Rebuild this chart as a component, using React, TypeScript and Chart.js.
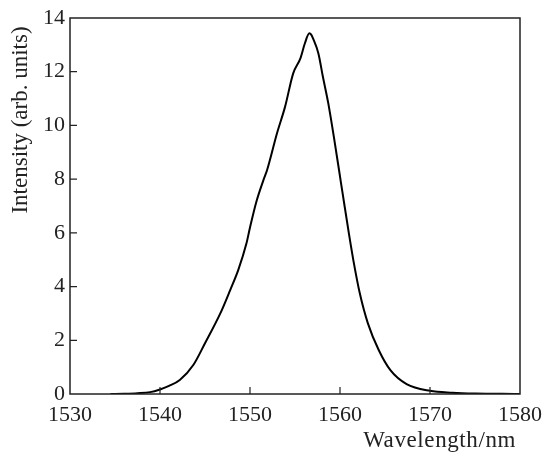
import React, { useEffect, useRef } from "react";
import { Chart, registerables } from "chart.js";

Chart.register(...registerables);

const wavelengths: number[] = [
  1534.5, 1536, 1537.5, 1538.9, 1540, 1541, 1542.2, 1543.7, 1545, 1546.7,
  1547.8, 1548.7, 1549.6, 1550.0, 1550.7, 1551.5, 1551.9, 1553.0, 1553.9,
  1554.8, 1555.6, 1556.1, 1556.6, 1556.8, 1557.0, 1557.6, 1558.1, 1558.7,
  1559.4, 1560.0, 1560.3, 1561.0, 1561.5, 1562.2, 1563.1, 1564.3, 1565.6,
  1567.4, 1570, 1572.5, 1575, 1578, 1580,
];
const intensities: number[] = [
  0, 0.01, 0.03, 0.07, 0.17, 0.3, 0.52, 1.08, 1.89, 3.0,
  3.87, 4.62, 5.6, 6.2, 7.15, 7.97, 8.34, 9.71, 10.7,
  11.94, 12.5, 13.06, 13.43, 13.38, 13.24, 12.68, 11.81, 10.82,
  9.4, 8.1, 7.45, 5.95, 4.95, 3.75, 2.63, 1.64, 0.89,
  0.37, 0.12, 0.05, 0.02, 0.01, 0,
];
const xTicks: number[] = [1530, 1540, 1550, 1560, 1570, 1580];
const yTicks: number[] = [0, 2, 4, 6, 8, 10, 12, 14];
const xTitle = "Wavelength/nm";
const yTitle = "Intensity (arb. units)";

const FONT = "'Liberation Serif', 'Times New Roman', serif";
const INK = "#222";

const frame = {
  id: "frame",
  afterDraw(chart: any) {
    const { ctx, chartArea: a, scales } = chart;
    ctx.save();
    ctx.strokeStyle = INK;
    ctx.lineWidth = 1.5;
    ctx.strokeRect(a.left, a.top, a.right - a.left, a.bottom - a.top);
    ctx.lineWidth = 1.2;
    ctx.beginPath();
    xTicks.forEach((v) => {
      if (v === xTicks[0] || v === xTicks[xTicks.length - 1]) return;
      const px = scales.x.getPixelForValue(v);
      ctx.moveTo(px, a.bottom);
      ctx.lineTo(px, a.bottom - 7);
    });
    yTicks.forEach((v) => {
      if (v === yTicks[0] || v === yTicks[yTicks.length - 1]) return;
      const py = scales.y.getPixelForValue(v);
      ctx.moveTo(a.left, py);
      ctx.lineTo(a.left + 7, py);
    });
    ctx.stroke();

    // axis titles
    ctx.fillStyle = INK;
    ctx.font = `23px ${FONT}`;
    try { (ctx as any).letterSpacing = "0.6px"; } catch (e) {}
    ctx.textAlign = "right";
    ctx.textBaseline = "alphabetic";
    ctx.fillText(xTitle, a.right - 4, 447);
    try { (ctx as any).letterSpacing = "0px"; } catch (e) {}
    ctx.save();
    ctx.translate(27, 120);
    ctx.rotate(-Math.PI / 2);
    ctx.textAlign = "center";
    ctx.font = `23px ${FONT}`;
    ctx.fillText(yTitle, 0, 0);
    ctx.restore();
    ctx.restore();
  },
};

export default function App() {
  const ref = useRef<HTMLCanvasElement | null>(null);
  useEffect(() => {
    if (!ref.current) return;
    const chart = new Chart(ref.current, {
      type: "line",
      data: {
        datasets: [
          {
            data: wavelengths.map((w, i) => ({ x: w, y: intensities[i] })),
            borderColor: "#000",
            borderWidth: 2,
            pointRadius: 0,
            cubicInterpolationMode: "monotone",
            fill: false,
          },
        ],
      },
      options: {
        animation: false,
        responsive: true,
        maintainAspectRatio: false,
        layout: { padding: { top: 18, right: 22, left: 0, bottom: 0 } },
        plugins: { legend: { display: false }, tooltip: { enabled: false } },
        scales: {
          x: {
            type: "linear",
            min: 1530,
            max: 1580,
            afterBuildTicks: (s: any) => {
              s.ticks = xTicks.map((v) => ({ value: v }));
            },
            afterFit: (s: any) => {
              s.height = 58;
              s.paddingLeft = 0;
              s.paddingRight = 0;
            },
            grid: { display: false, drawTicks: false },
            border: { display: false },
            ticks: {
              color: INK,
              font: { family: FONT, size: 22 },
              padding: 8,
              maxRotation: 0,
              callback: (v: any) => String(v),
            },
          },
          y: {
            type: "linear",
            min: 0,
            max: 14,
            afterBuildTicks: (s: any) => {
              s.ticks = yTicks.map((v) => ({ value: v }));
            },
            afterFit: (s: any) => {
              s.width = 70;
              s.paddingTop = 0;
              s.paddingBottom = 0;
            },
            grid: { display: false, drawTicks: false },
            border: { display: false },
            ticks: {
              color: INK,
              font: { family: FONT, size: 22 },
              padding: 5,
              callback: (v: any) => String(v),
            },
          },
        },
      },
      plugins: [frame],
    });
    return () => chart.destroy();
  }, []);
  return (
    <div style={{ position: "absolute", left: 0, top: 0, width: 542, height: 452, background: "#fff" }}>
      <canvas ref={ref} />
    </div>
  );
}
